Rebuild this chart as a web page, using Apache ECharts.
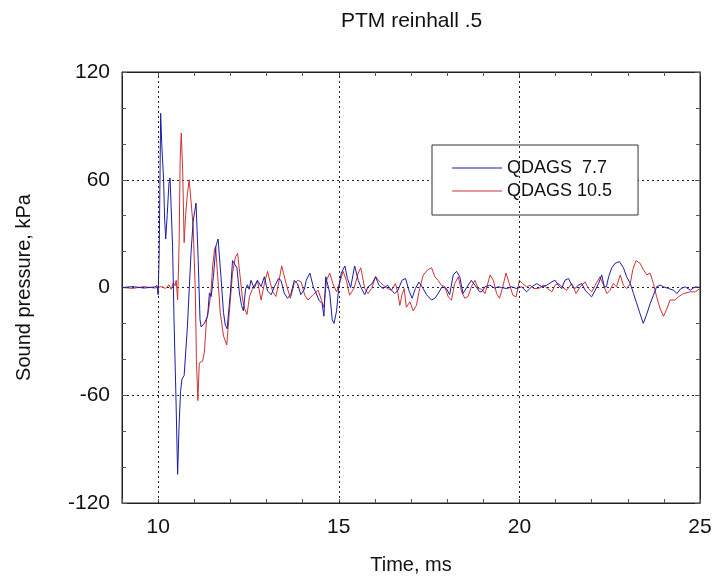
<!DOCTYPE html>
<html>
<head>
<meta charset="utf-8">
<script src="https://cdn.jsdelivr.net/npm/echarts@6/dist/echarts.min.js"></script>
<style>
html,body{margin:0;padding:0;background:#fff;}
#c{width:719px;height:585px;}
</style>
</head>
<body>
<div id="c"></div>
<script>
// ---- data (time in ms, sound pressure in kPa) ----
const seriesNames = ['QDAGS  7.7', 'QDAGS 10.5'];

const blueTime = [9.0,9.3,9.6,9.9,9.97,10.0,10.03,10.07,10.1,10.12,10.15,10.18,10.21,10.25,10.3,10.33,10.36,10.4,10.44,10.49,10.54,10.58,10.62,10.66,10.72,10.81,10.91,10.97,11.05,11.11,11.16,11.19,11.28,11.37,11.42,11.47,11.53,11.6,11.66,11.74,11.81,11.86,11.91,12.0,12.06,12.11,12.18,12.25,12.31,12.36,12.42,12.47,12.52,12.57,12.66,12.75,12.85,12.94,13.03,13.13,13.22,13.33,13.4,13.49,13.58,13.67,13.77,13.86,13.95,14.05,14.1,14.2,14.3,14.37,14.45,14.54,14.59,14.64,14.69,14.75,14.82,14.87,14.94,15.0,15.07,15.17,15.24,15.33,15.44,15.54,15.63,15.72,15.81,15.92,16.02,16.11,16.23,16.35,16.46,16.55,16.64,16.75,16.85,16.94,17.03,17.12,17.22,17.32,17.43,17.57,17.66,17.75,17.86,17.98,18.07,18.17,18.26,18.35,18.44,18.54,18.67,18.77,18.9,18.96,19.05,19.18,19.23,19.32,19.41,19.51,19.65,19.79,19.92,20.06,20.2,20.34,20.48,20.62,20.76,20.9,20.99,21.08,21.17,21.26,21.36,21.45,21.54,21.63,21.73,21.82,21.91,22.0,22.1,22.19,22.28,22.35,22.41,22.47,22.56,22.65,22.77,22.88,22.97,23.07,23.16,23.25,23.34,23.43,23.53,23.62,23.71,23.8,23.9,23.99,24.13,24.27,24.36,24.47,24.59,24.73,24.87,25.0];
const blueValue = [0,0.5,-0.3,0.3,1,-4,20,97,80,72,61,38,27,40,58,61,45,23,-18,-58,-104,-77,-58,-51,-49,-22,19,37,47,15,-18,-22,-20,-16,-3,-5,6,23,27,6,-14,-21,-23,-3,15,16,11,-3,-10,-13,-1,1.5,-1,4,-0.5,4,0.5,6,-2,-4,0.5,5,4,-3,-6,-4,4,2,-4,-1,4,8,0,-3,-7,-9,-16,6,6,-3,-18,-20,-13,0,8,12,5,0,12,4,-0.6,-4,0.4,2,6,1.3,-0.6,1.3,-1.5,-3.4,-1.5,4,5,-1.5,-6,-0.6,3,0,-4,-7,-6,-3.4,0.4,-0.6,-4,7,9,6,-3.4,0,4,1.3,-2.4,-2.4,0.4,1.3,2.2,-0.4,0.4,0,-0.6,0.4,-0.6,0.4,-2.4,0.4,2.2,0.4,1.3,3.2,4,1.3,-0.6,4,5,1.3,-0.6,1.3,2.2,-1.5,-3.4,-5.2,-1.5,2.2,7,0.4,0.4,6,11,13.5,14.4,11,6,2.2,-3.4,-9,-14.6,-20,-14.6,-9,-4.3,0.4,1.3,0.4,-0.6,-1.5,-3.4,-0.6,0.4,-1.5,0.4,0];

const redTime = [9.0,9.3,9.6,9.9,10.1,10.2,10.3,10.36,10.42,10.47,10.5,10.54,10.58,10.61,10.64,10.68,10.72,10.76,10.81,10.86,10.91,10.97,11.03,11.06,11.1,11.14,11.18,11.23,11.28,11.34,11.4,11.46,11.51,11.56,11.59,11.65,11.72,11.81,11.9,11.97,12.06,12.14,12.2,12.27,12.34,12.4,12.46,12.53,12.6,12.75,12.85,12.94,13.03,13.1,13.17,13.26,13.34,13.42,13.54,13.66,13.77,13.87,13.96,14.06,14.15,14.29,14.43,14.52,14.59,14.66,14.75,14.84,14.94,15.03,15.12,15.21,15.3,15.42,15.54,15.61,15.72,15.81,15.91,16.02,16.14,16.23,16.35,16.46,16.57,16.64,16.69,16.75,16.81,16.87,16.97,17.06,17.15,17.24,17.34,17.47,17.57,17.66,17.75,17.84,17.94,18.03,18.12,18.21,18.31,18.4,18.49,18.58,18.67,18.77,18.86,18.96,19.05,19.19,19.28,19.37,19.45,19.54,19.63,19.72,19.82,19.91,20.0,20.09,20.2,20.3,20.39,20.53,20.67,20.78,20.9,20.99,21.08,21.17,21.31,21.45,21.57,21.68,21.82,21.91,22.0,22.1,22.23,22.33,22.42,22.51,22.6,22.69,22.79,22.88,22.97,23.07,23.14,23.23,23.34,23.43,23.53,23.62,23.71,23.8,23.9,23.99,24.08,24.17,24.31,24.4,24.54,24.73,24.87,25.0];
const redValue = [0,-0.5,0.5,-0.3,0.5,-0.5,1.5,-1,2.5,1,4,-7,23,71,86,65,25,40,52,60,59,34,-3,-40,-63,-42,-43,-41,-36,-18,-12,-3,12,21,23,6,-14,-27,-32,-14,8,17,19,6,-7,-12,-15,-5,-1.3,4,-7,2,9,3,-2.3,-5,3,12,2.4,-6,2.4,4,3,-4.3,-7,-4,-1.5,-7,-11,4,8,2,-2.4,3,9,4,-4.3,-0.6,8,11,-0.6,-3.4,-0.6,6,3,1.3,-0.6,-1.5,2.2,-3.4,-10,-4,-0.6,-11,-8,-13,-10,-0.6,7,10,11,6,4,1.3,0.4,-5.2,-7,2.2,6,-2.4,-6,-5,0.4,4,-0.6,-1,-3.4,7,4,-3.4,-6,0.4,8,2.2,-4.3,-5.2,4,2.2,0.4,1.3,-0.6,-0.6,1.3,-0.6,-2.4,1.3,2.2,0.4,-1.5,2.2,-3.4,0.4,3.2,-0.6,-2.4,1.3,6,1.3,-3.4,-1.5,2.2,0.4,7,1.3,-0.6,2.2,10,15,13.5,10,7,8,2.2,-5.2,-12,-16,-12,-7,-7,-5.2,-3.4,-2.4,-2.4,-0.6];

const xGridValues = [10, 15, 20];
const xLabelValues = [10, 15, 20, 25];

// ---- chart ----
const pairs = (t, v) => t.map((x, i) => [x, v[i]]);
const FONT = '"Liberation Sans", Arial, sans-serif';
const chart = echarts.init(document.getElementById('c'), null, {renderer: 'canvas'});

const axisLineStyle = {color: '#222', width: 1};
const baseX = {
  type: 'value', min: 9, max: 25, interval: 1,
  axisLine: {show: true, onZero: false, lineStyle: axisLineStyle},
  axisTick: {show: true, inside: true, length: 4, lineStyle: {color: '#555'}},
  splitLine: {show: false}
};
const baseY = {
  type: 'value', min: -120, max: 120, interval: 60,
  axisLine: {show: true, onZero: false, lineStyle: axisLineStyle},
  axisTick: {show: true, inside: true, length: 5, lineStyle: {color: '#555'}},
  minorTick: {show: true, splitNumber: 3, length: 4, lineStyle: {color: '#555'}}
};

chart.setOption({
  animation: false,
  backgroundColor: '#fff',
  textStyle: {fontFamily: FONT},
  title: {
    text: 'PTM reinhall .5',
    left: 336, top: 6,
    textStyle: {fontFamily: FONT, fontSize: 21, fontWeight: 'normal', color: '#111'}
  },
  grid: {left: 122, right: 19, top: 72, bottom: 82, show: true, borderColor: '#222', borderWidth: 1, backgroundColor: '#fff'},
  legend: {
    data: seriesNames.map(n => ({name: n, icon: 'rect'})),
    orient: 'vertical',
    left: 432, top: 145,
    padding: [14, 26, 15, 20],
    itemWidth: 50, itemHeight: 1, itemGap: 5, itemTextGap: 15,
    backgroundColor: '#fff',
    borderColor: '#333', borderWidth: 1,
    textStyle: {fontFamily: FONT, fontSize: 18, color: '#111', lineHeight: 18}
  },
  xAxis: [
    Object.assign({}, baseX, {
      position: 'bottom',
      name: 'Time, ms', nameLocation: 'middle', nameGap: 52,
      nameTextStyle: {fontFamily: FONT, fontSize: 20, color: '#111'},
      axisLabel: {
        show: true, margin: 14, fontFamily: FONT, fontSize: 21, color: '#111',
        formatter: v => (xLabelValues.indexOf(v) >= 0 ? String(v) : '')
      }
    }),
    Object.assign({}, baseX, {position: 'top', axisLabel: {show: false}})
  ],
  yAxis: [
    Object.assign({}, baseY, {
      position: 'left',
      name: 'Sound pressure, kPa', nameLocation: 'middle', nameGap: 88, nameRotate: 90,
      nameTextStyle: {fontFamily: FONT, fontSize: 20, color: '#111'},
      axisLabel: {show: true, margin: 12, fontFamily: FONT, fontSize: 21, color: '#111'},
      splitLine: {show: true, lineStyle: {color: '#222', type: [2, 3], width: 1}}
    }),
    Object.assign({}, baseY, {position: 'right', axisLabel: {show: false}, splitLine: {show: false}})
  ],
  series: [
    {
      name: seriesNames[1], type: 'line', xAxisIndex: 0, yAxisIndex: 0,
      data: pairs(redTime, redValue),
      symbol: 'none', smooth: false,
      lineStyle: {color: '#d03232', width: 1},
      itemStyle: {color: '#d03232'},
      z: 3,
      markLine: {
        silent: true, symbol: 'none', label: {show: false}, animation: false,
        lineStyle: {color: '#222', type: [2, 3], width: 1},
        data: xGridValues.map(v => ({xAxis: v}))
      }
    },
    {
      name: seriesNames[0], type: 'line', xAxisIndex: 0, yAxisIndex: 0,
      data: pairs(blueTime, blueValue),
      symbol: 'none', smooth: false,
      lineStyle: {color: '#1c1ca8', width: 1},
      itemStyle: {color: '#1c1ca8'},
      z: 4
    }
  ]
});
</script>
</body>
</html>
